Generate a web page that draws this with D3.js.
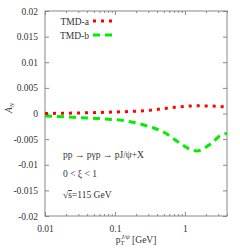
<!DOCTYPE html>
<html><head><meta charset="utf-8">
<script src="https://cdn.jsdelivr.net/npm/d3@7"></script>
<style>body{margin:0;background:#fff}svg{display:block}text{font-family:"Liberation Serif",serif;fill:#333}</style>
</head><body><div id="c"></div>
<script>
const seriesNames = ["TMD-a", "TMD-b"];
const ptA = [0.01, 0.03, 0.1, 0.3, 0.7, 1.5, 3, 4];
const anA = [0.0000, 0.0001, 0.0003, 0.0006, 0.0012, 0.0015, 0.0014, 0.0012];
const ptB = [0.01, 0.0318, 0.062, 0.166, 0.30, 0.51, 0.81, 1.2, 1.48, 2.35, 3.4, 4];
const anB = [-0.0005, -0.0008, -0.0010, -0.0016, -0.0025, -0.0037, -0.0056, -0.0070, -0.0073, -0.0059, -0.0041, -0.0039];
const yTicks = [0.02, 0.015, 0.01, 0.005, 0, -0.005, -0.01, -0.015, -0.02];
const yTickLabels = ["0.02", "0.015", "0.01", "0.005", "0", "-0.005", "-0.01", "-0.015", "-0.02"];
const xTicks = [0.01, 0.1, 1];
const xTickLabels = ["0.01", "0.1", "1"];

const W = 240, H = 251;
const m = {l: 45, r: 13, t: 11, b: 35};
const svg = d3.select("#c").append("svg").attr("width", W).attr("height", H);
const x = d3.scaleLog().domain([0.01, 4]).range([m.l, W - m.r]);
const y = d3.scaleLinear().domain([-0.02, 0.02]).range([H - m.b, m.t]);
const axisCol = "#888";

// frame
svg.append("rect").attr("x", m.l).attr("y", m.t).attr("width", W - m.r - m.l).attr("height", H - m.b - m.t)
  .attr("fill", "none").attr("stroke", axisCol).attr("stroke-width", 1);

// y ticks
const yAx = svg.append("g").attr("transform", `translate(${m.l},0)`)
  .call(d3.axisLeft(y).tickValues(yTicks).tickSize(-4).tickPadding(7).tickFormat((d, i) => yTickLabels[i]));
const yAxR = svg.append("g").attr("transform", `translate(${W - m.r},0)`)
  .call(d3.axisRight(y).tickValues(yTicks).tickSize(-4).tickFormat(""));
// x ticks
const minor = [];
for (let dec = 0.01; dec < 4; dec *= 10) for (let k = 2; k <= 9; k++) if (dec * k <= 4) minor.push(dec * k);
const xAx = svg.append("g").attr("transform", `translate(0,${H - m.b})`)
  .call(d3.axisBottom(x).tickValues(xTicks).tickSize(-4).tickPadding(9).tickFormat((d, i) => xTickLabels[i]));
svg.append("g").attr("transform", `translate(0,${H - m.b})`)
  .call(d3.axisBottom(x).tickValues(minor).tickSize(-2).tickFormat(""));
svg.append("g").attr("transform", `translate(0,${m.t})`)
  .call(d3.axisTop(x).tickValues(xTicks).tickSize(-4).tickFormat(""));
svg.append("g").attr("transform", `translate(0,${m.t})`)
  .call(d3.axisTop(x).tickValues(minor).tickSize(-2).tickFormat(""));
svg.selectAll(".domain").remove();
svg.selectAll(".tick line").attr("stroke", axisCol);
svg.selectAll(".tick text").attr("font-size", 9.5).attr("fill", "#333").attr("font-family", "Liberation Serif");

// lines
const line = d3.line().x(d => x(d[0])).y(d => y(d[1])).curve(d3.curveMonotoneX);
svg.append("path").datum(ptB.map((p, i) => [p, anB[i]])).attr("d", line)
  .attr("fill", "none").attr("stroke", "#00ee00").attr("stroke-width", 3).attr("stroke-dasharray", "7,5");
svg.append("path").datum(ptA.map((p, i) => [p, anA[i]])).attr("d", line)
  .attr("fill", "none").attr("stroke", "#ff0000").attr("stroke-width", 3).attr("stroke-dasharray", "3,5");

// legend
const leg = [{n: seriesNames[0], c: "#ff0000", d: "3,5", y: 21}, {n: seriesNames[1], c: "#00ee00", d: "7,5", y: 35}];
leg.forEach(l => {
  svg.append("text").attr("x", 89).attr("y", l.y + 3.5).attr("text-anchor", "end").attr("font-size", 9.5).text(l.n);
  svg.append("line").attr("x1", 93).attr("x2", 115).attr("y1", l.y).attr("y2", l.y)
    .attr("stroke", l.c).attr("stroke-width", 3).attr("stroke-dasharray", l.d);
});

// annotations
svg.append("text").attr("x", 63).attr("y", 158).attr("font-size", 9.5).text("pp → pγp → pJ/ψ+X");
svg.append("text").attr("x", 63).attr("y", 177).attr("font-size", 9.5).text("0 < ξ < 1");
const t3 = svg.append("text").attr("x", 63).attr("y", 198).attr("font-size", 9.5);
t3.append("tspan").text("√");
t3.append("tspan").attr("text-decoration", "overline").text("s");
t3.append("tspan").text("=115 GeV");

// axis labels
const xl = svg.append("text").attr("x", 136).attr("y", 243).attr("text-anchor", "middle").attr("font-size", 9.5);
xl.append("tspan").text("p");
xl.append("tspan").attr("font-size", 6.5).attr("font-style", "italic").attr("dy", 2).text("T");
xl.append("tspan").attr("font-size", 6.5).attr("font-style", "italic").attr("dy", -6).attr("dx", -3).text("J/ψ");
xl.append("tspan").attr("dy", 4).text(" [GeV]");
const yl = svg.append("text").attr("transform", "translate(12,108) rotate(-90)").attr("text-anchor", "middle").attr("font-size", 9.5).attr("font-style", "italic");
yl.append("tspan").text("A");
yl.append("tspan").attr("font-size", 6.5).attr("dy", 2).text("N");
</script></body></html>
